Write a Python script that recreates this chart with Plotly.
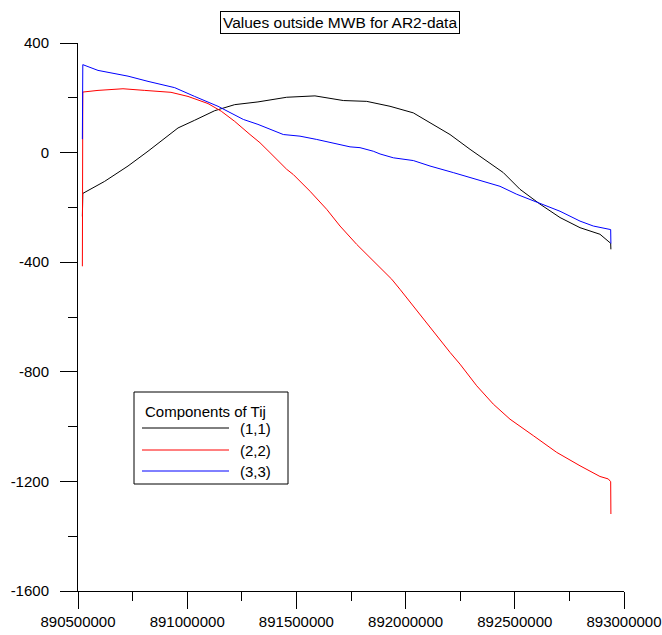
import plotly.graph_objects as go

# ---------------- data ----------------
series_names = ["(1,1)", "(2,2)", "(3,3)"]
series_colors = ["rgb(0,0,0)", "rgb(255,0,0)", "rgb(0,0,255)"]

t11 = [890520000, 890522000, 890622000, 890729000, 890820500, 890897000, 890958000,
       891034000, 891126000, 891217500, 891324000, 891455600, 891585000, 891714800,
       891822000, 891928600, 892035300, 892111700, 892203300, 892295000, 892371300,
       892447400, 892523800, 892615400, 892707000, 892798600, 892890000, 892939000,
       892940000]
v11 = [-233, -149, -105, -49, 5, 54, 90,
       118, 153, 175, 185, 202, 207, 190,
       187, 169, 145, 109, 66, 12, -31,
       -73, -134, -188, -237, -274, -298, -331,
       -353]

t22 = [890520000, 890522000, 890591600, 890706000, 890805400, 890925800, 891003700,
       891095300, 891156000, 891217500, 891287600, 891333300, 891379000, 891455600,
       891485800, 891562300, 891638700, 891699700, 891776100, 891882800, 891936400,
       891974400, 892035300, 892126900, 892203300, 892249100, 892325500, 892401600,
       892478000, 892584700, 892691800, 892798600, 892890000, 892928000, 892939000,
       892940000]
v22 = [-415, 221, 227, 233, 227, 220, 205,
       179, 151, 114, 66, 36, 0, -61,
       -80, -141, -207, -268, -335, -420, -462,
       -499, -560, -656, -729, -772, -851, -918,
       -973, -1033, -1094, -1143, -1182, -1191, -1201,
       -1319]

t33 = [890520000, 890522000, 890591600, 890729000, 890820500, 890942800, 891034000,
       891141000, 891257000, 891324000, 891440000, 891516500, 891593000, 891669000,
       891745500, 891791200, 891852000, 891883000, 891944000, 892035300, 892111700,
       892218400, 892371300, 892432200, 892508700, 892615400, 892707000, 892798600,
       892859500, 892939000, 892940000]
v33 = [49, 321, 300, 279, 260, 237, 205,
       169, 121, 103, 66, 60, 48, 34,
       21, 18, 5, -5, -19, -29, -49,
       -73, -110, -123, -152, -185, -214, -250,
       -268, -281, -332]

x_ticks = [890500000, 891000000, 891500000, 892000000, 892500000, 893000000]
x_tick_labels = ["890500000", "891000000", "891500000", "892000000", "892500000", "893000000"]
y_ticks = [400, 0, -400, -800, -1200, -1600]

title_text = "Values outside MWB for AR2-data"
legend_title = "Components of Tij"

# ---------------- layout geometry ----------------
W, H = 662, 635
L, R, T, B = 78, 624, 43, 591
FONT = "Liberation Sans, Arial, sans-serif"

def px(xp):
    return (xp - L) / (R - L)

def py(yp):
    return (B - yp) / (B - T)

fig = go.Figure()
for t, v, name, col in zip([t11, t22, t33], [v11, v22, v33], series_names, series_colors):
    fig.add_trace(go.Scatter(x=t, y=v, mode="lines", name=name,
                             line=dict(color=col, width=1), showlegend=False))

axis_common = dict(showline=True, linecolor="black", linewidth=1, showgrid=False,
                   zeroline=False, ticks="outside", tickcolor="black", tickwidth=1,
                   ticklen=17, automargin=False,
                   tickfont=dict(family=FONT, size=15, color="black"))

fig.update_xaxes(range=[x_ticks[0], x_ticks[-1]], tickmode="array", tickvals=x_ticks,
                 ticktext=x_tick_labels,
                 minor=dict(ticks="outside", ticklen=9, dtick=250000, tickcolor="black"),
                 **axis_common)
fig.update_yaxes(range=[y_ticks[-1], y_ticks[0]], tickmode="array", tickvals=y_ticks,
                 ticktext=[str(v) for v in y_ticks], ticklabelstandoff=8,
                 minor=dict(ticks="outside", ticklen=9, dtick=200, tickcolor="black"),
                 **axis_common)

shapes = []
annotations = []

# title box
annotations.append(dict(text=title_text, xref="paper", yref="paper",
                        x=px(339.5), y=py(23), xanchor="center", yanchor="middle",
                        showarrow=False, font=dict(family=FONT, size=15.5, color="black"),
                        bordercolor="black", borderwidth=1, borderpad=2, bgcolor="white"))

# custom legend
shapes.append(dict(type="rect", xref="paper", yref="paper",
                   x0=px(134), x1=px(288), y0=py(484), y1=py(392),
                   line=dict(color="black", width=1), fillcolor="white", layer="above"))
annotations.append(dict(text=legend_title, xref="paper", yref="paper",
                        x=px(143), y=py(411), xanchor="left", yanchor="middle",
                        showarrow=False, font=dict(family=FONT, size=15, color="black")))
row_y = [428, 450, 471]
for name, col, yy in zip(series_names, series_colors, row_y):
    shapes.append(dict(type="line", xref="paper", yref="paper",
                       x0=px(142), x1=px(229), y0=py(yy), y1=py(yy),
                       line=dict(color=col, width=1), layer="above"))
    annotations.append(dict(text=name, xref="paper", yref="paper",
                            x=px(238), y=py(yy), xanchor="left", yanchor="middle",
                            showarrow=False, font=dict(family=FONT, size=15, color="black")))

fig.update_layout(width=W, height=H,
                  margin=dict(l=L, r=W - R, t=T, b=H - B, autoexpand=False),
                  plot_bgcolor="white", paper_bgcolor="white",
                  font=dict(family=FONT, size=15, color="black"),
                  shapes=shapes, annotations=annotations, showlegend=False)

fig.write_html("out.html")
